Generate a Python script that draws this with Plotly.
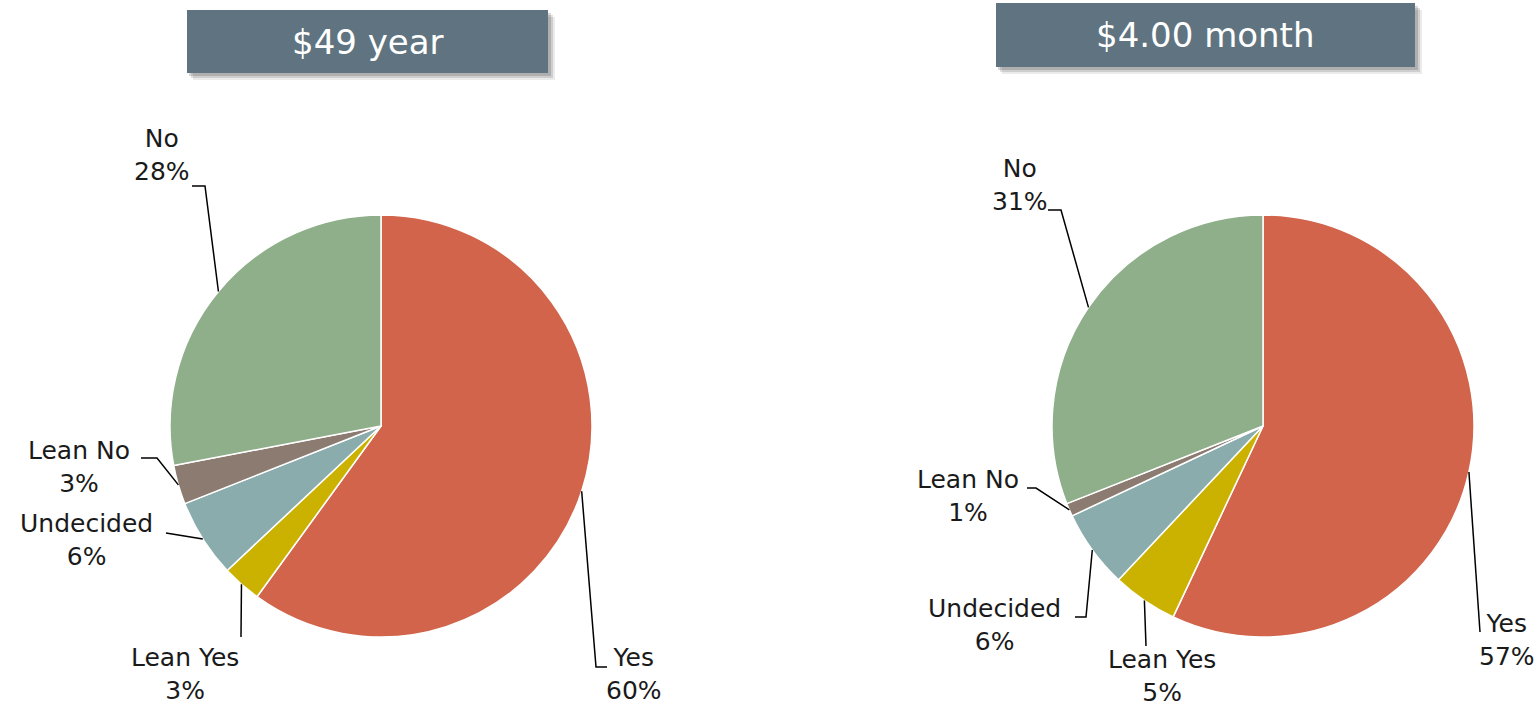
import math
import plotly.graph_objects as go

# ---- data ----
categories = ["Yes", "Lean Yes", "Undecided", "Lean No", "No"]
year_values = [60, 3, 6, 3, 28]
month_values = [57, 5, 6, 1, 31]
titles = ["$49 year", "$4.00 month"]

# ---- styles ----
colors = ["#D1644A", "#CBB200", "#8AACAC", "#8C7B70", "#8FAE8A"]
W, H = 1535, 708
FONT = "DejaVu Sans"

charts = [
    dict(values=year_values, title=titles[0], cx=381, cy=426, r=211,
         box=(187, 10, 548, 73),
         labels=[(634, 674), (185, 674), (86, 540), (79, 467), (162, 155)],
         elbows=[[(596, 667), (607, 667)], [(241, 637)], [(166, 533)],
                 [(157, 458), (141, 458)], [(205, 186), (192, 186)]]),
    dict(values=month_values, title=titles[1], cx=1263, cy=426, r=211,
         box=(996, 3, 1415, 67),
         labels=[(1507, 640), (1162, 676), (995, 625), (968, 496), (1020, 185)],
         elbows=[[(1480, 632)], [(1146, 646)], [(1086, 617), (1075, 617)],
                 [(1036, 488), (1027, 488)], [(1061, 210), (1048, 210)]]),
]


def px(x):
    return x / W


def py(y):
    return 1 - y / H


fig = go.Figure()
shapes = []
annotations = []

for ch in charts:
    cx, cy, r = ch["cx"], ch["cy"], ch["r"]
    fig.add_trace(go.Pie(
        labels=categories, values=ch["values"], sort=False,
        direction="clockwise", rotation=0,
        marker=dict(colors=colors, line=dict(color="white", width=1.5)),
        textinfo="none", hoverinfo="label+percent", showlegend=False,
        domain=dict(x=[px(cx - r), px(cx + r)], y=[py(cy + r), py(cy - r)]),
    ))

    total = sum(ch["values"])
    cum = 0
    for i, v in enumerate(ch["values"]):
        mid = (cum + v / 2) / total * 2 * math.pi
        cum += v
        ex = cx + r * math.sin(mid)
        ey = cy - r * math.cos(mid)
        pts = [(ex, ey)] + ch["elbows"][i]
        path = "M " + " L ".join(f"{px(a)},{py(b)}" for a, b in pts)
        shapes.append(dict(type="path", xref="paper", yref="paper", path=path,
                           line=dict(color="black", width=1.5)))
        lx, ly = ch["labels"][i]
        annotations.append(dict(
            x=px(lx), y=py(ly), xref="paper", yref="paper",
            text=f"{categories[i]}<br>{round(v / total * 100)}%",
            showarrow=False, xanchor="center", yanchor="middle", align="center",
            font=dict(family=FONT, size=25, color="#1a1a1a")))

    x0, y0, x1, y1 = ch["box"]
    # soft shadow
    for off, alpha in [(7, 0.08), (5, 0.12), (3, 0.15)]:
        shapes.append(dict(type="rect", xref="paper", yref="paper",
                           x0=px(x0 + off - 1), x1=px(x1 + off), y0=py(y0 + off), y1=py(y1 + off),
                           fillcolor=f"rgba(0,0,0,{alpha})", line=dict(width=0), layer="below"))
    shapes.append(dict(type="rect", xref="paper", yref="paper",
                       x0=px(x0), x1=px(x1), y0=py(y0), y1=py(y1),
                       fillcolor="#5F7480", line=dict(width=0), layer="below"))
    annotations.append(dict(
        x=px((x0 + x1) / 2), y=py((y0 + y1) / 2), xref="paper", yref="paper",
        text=ch["title"], showarrow=False, xanchor="center", yanchor="middle",
        font=dict(family=FONT, size=34, color="white")))

fig.update_layout(
    width=W, height=H,
    margin=dict(l=0, r=0, t=0, b=0),
    paper_bgcolor="white", plot_bgcolor="white",
    shapes=shapes, annotations=annotations,
)

fig.write_html(
    "out.html",
    config={"displayModeBar": False},
    post_script="document.body.style.margin='0';document.body.style.overflow='hidden';",
)
